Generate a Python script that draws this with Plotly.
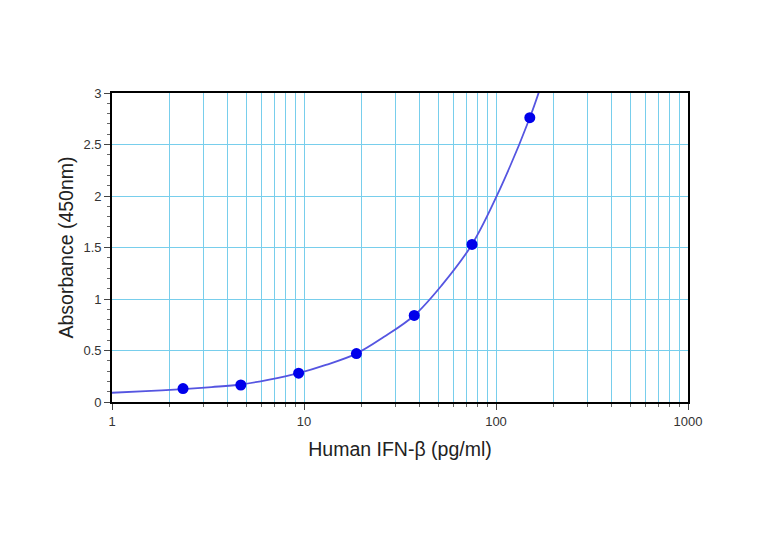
import plotly.graph_objects as go

# Standard points
conc = [2.34375, 4.6875, 9.375, 18.75, 37.5, 75, 150]
absorb = [0.13, 0.165, 0.28, 0.47, 0.84, 1.53, 2.76]

# Fitted curve
curve_x = [1, 1.5, 2.34375, 3.3, 4.6875, 6.5, 9.375, 13, 18.75, 26, 37.5, 52, 75, 105, 150, 175]
curve_y = [0.09, 0.105, 0.125, 0.145, 0.17, 0.215, 0.28, 0.36, 0.47, 0.63, 0.84, 1.13, 1.53, 2.07, 2.76, 3.12]

grid_col = "rgb(120,206,236)"

fig = go.Figure()
fig.add_trace(go.Scatter(x=curve_x, y=curve_y, mode="lines",
                         line=dict(color="rgb(85,85,225)", width=1.8, shape="spline", smoothing=1.0),
                         hoverinfo="skip", showlegend=False))
fig.add_trace(go.Scatter(x=conc, y=absorb, mode="markers",
                         marker=dict(color="rgb(0,0,235)", size=11),
                         showlegend=False))

fig.update_layout(
    width=754, height=542,
    margin=dict(l=104, r=74, t=85, b=148),
    paper_bgcolor="white", plot_bgcolor="white",
    font=dict(family="Liberation Sans, Arial, sans-serif", color="#333333"),
)
fig.update_xaxes(
    type="log", range=[0, 3], dtick=1,
    showline=True, linecolor="black", linewidth=1.8, mirror=True,
    showgrid=True, gridcolor=grid_col, gridwidth=1,
    ticks="outside", ticklen=6, tickcolor="#444",
    tickfont=dict(size=13, color="#333"),
    minor=dict(dtick="D1", ticks="outside", ticklen=3, tickcolor="#666",
               showgrid=True, gridcolor=grid_col, gridwidth=1),
    title=dict(text="Human IFN-β (pg/ml)", font=dict(size=19.5, color="#222"), standoff=15),
    zeroline=False,
)
fig.update_yaxes(
    range=[0, 3], dtick=0.5,
    showline=True, linecolor="black", linewidth=1.8, mirror=True,
    showgrid=True, gridcolor=grid_col, gridwidth=1,
    ticks="outside", ticklen=6, tickcolor="#444",
    tickfont=dict(size=13, color="#333"),
    minor=dict(dtick=0.1, ticks="outside", ticklen=3, tickcolor="#666", showgrid=False),
    title=dict(text="Absorbance (450nm)", font=dict(size=19.5, color="#222"), standoff=5),
    zeroline=False,
)

fig.write_html("out.html")
